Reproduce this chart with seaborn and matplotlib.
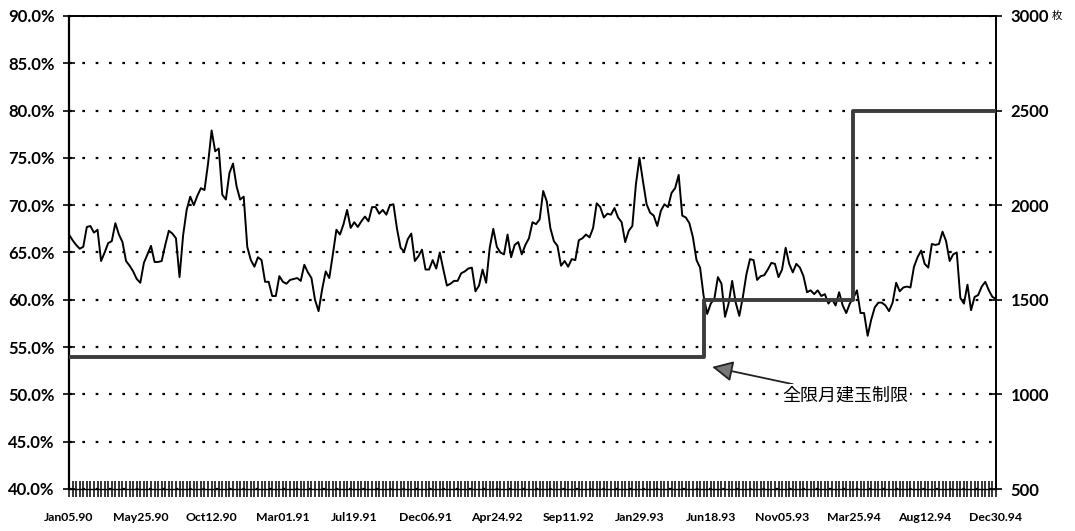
import numpy as np
import pandas as pd
import matplotlib
matplotlib.use("Agg")
import matplotlib.pyplot as plt
import seaborn as sns

# Weekly ratio (%) Jan05.90 .. Dec30.94 (261 weeks)
ratio = [
    66.9, 66.3, 65.8, 65.4, 65.6, 67.7, 67.8, 67.1, 67.4, 64.1,
    65.0, 66.0, 66.2, 68.1, 66.9, 66.1, 64.1, 63.6, 63.0, 62.2,
    61.8, 63.9, 64.8, 65.7, 64.0, 64.0, 64.1, 65.8, 67.3, 67.0,
    66.5, 62.4, 66.8, 69.5, 70.9, 70.0, 71.0, 71.8, 71.6, 74.4,
    77.9, 75.7, 76.0, 71.1, 70.6, 73.4, 74.4, 72.0, 70.6, 70.9,
    65.6, 64.2, 63.5, 64.5, 64.2, 61.9, 61.9, 60.4, 60.4, 62.5,
    61.9, 61.7, 62.1, 62.2, 62.3, 62.0, 63.7, 62.9, 62.3, 60.0,
    58.8, 61.1, 63.0, 62.3, 64.8, 67.4, 66.9, 68.0, 69.5, 67.6,
    68.2, 67.7, 68.3, 68.8, 68.3, 69.8, 69.8, 69.1, 69.5, 69.0,
    70.0, 70.1, 67.5, 65.5, 65.1, 66.4, 67.0, 64.1, 64.6, 65.3,
    63.2, 63.2, 64.2, 63.3, 65.0, 63.2, 61.5, 61.7, 62.0, 62.0,
    62.8, 63.0, 63.3, 63.4, 60.9, 61.5, 63.2, 61.8, 65.5, 67.5,
    65.6, 65.0, 64.8, 66.9, 64.5, 65.8, 66.1, 64.8, 65.8, 66.5,
    68.2, 68.0, 68.5, 71.5, 70.4, 67.6, 66.2, 65.7, 63.6, 64.1,
    63.5, 64.3, 64.2, 66.3, 66.5, 66.9, 66.6, 67.6, 70.2, 69.8,
    68.7, 69.1, 69.0, 69.7, 68.7, 68.2, 66.1, 67.3, 67.8, 72.2,
    75.0, 72.5, 70.1, 69.2, 68.9, 67.8, 69.4, 70.1, 69.8, 71.3,
    71.8, 73.2, 68.9, 68.7, 68.1, 66.6, 64.2, 63.4, 60.4, 58.5,
    59.6, 60.1, 62.4, 61.7, 58.2, 59.6, 62.0, 59.7, 58.3, 60.3,
    62.7, 64.3, 64.2, 62.1, 62.5, 62.6, 63.2, 63.9, 63.8, 62.4,
    63.2, 65.5, 63.8, 62.9, 63.8, 63.4, 62.5, 60.8, 61.0, 60.6,
    61.0, 60.4, 60.6, 59.6, 60.1, 59.4, 60.8, 59.4, 58.6, 59.6,
    60.2, 61.0, 58.6, 58.6, 56.2, 57.9, 59.2, 59.7, 59.7, 59.4,
    58.8, 59.7, 61.8, 60.9, 61.3, 61.4, 61.3, 63.5, 64.5, 65.2,
    63.8, 63.4, 65.9, 65.8, 65.9, 67.2, 66.2, 64.1, 64.8, 65.0,
    60.2, 59.6, 61.6, 58.9, 60.3, 60.5, 61.4, 61.9, 61.0, 60.3, 60.1,
]

tick_labels = ["Jan05.90", "May25.90", "Oct12.90", "Mar01.91", "Jul19.91",
               "Dec06.91", "Apr24.92", "Sep11.92", "Jan29.93", "Jun18.93",
               "Nov05.93", "Mar25.94", "Aug12.94", "Dec30.94"]

# Position limit for all contract months (枚), step changes by week index
limit_week = [0, 178, 220, 260]
limit_contracts = [1200, 1500, 2500, 2500]

left_ticks = [40, 45, 50, 55, 60, 65, 70, 75, 80, 85, 90]
right_ticks = [500, 1000, 1500, 2000, 2500, 3000]

sns.set_theme(style="white")
plt.rcParams["font.family"] = ["Lato", "DejaVu Sans"]

W, H = 1075, 531
fig = plt.figure(figsize=(W / 100, H / 100), dpi=100)
ax = fig.add_axes([69 / W, 1 - 489 / H, (996 - 69) / W, (489 - 16) / H])

df = pd.DataFrame({"week": np.arange(len(ratio)), "ratio": ratio})
sns.lineplot(data=df, x="week", y="ratio", ax=ax, color="black", lw=1.4, zorder=3)

ax.set_xlim(0, len(ratio) - 1)
ax.set_ylim(40, 90)
ax.set_xlabel("")
ax.set_ylabel("")

ax.set_yticks(left_ticks)
ax.set_yticklabels([f"{v:.1f}%" for v in left_ticks])
ax.yaxis.grid(True, linestyle=(0, (1.2, 4.8)), lw=1.6, color="black")
ax.xaxis.grid(False)

ax.set_xticks(np.arange(0, len(ratio), 20))
ax.set_xticklabels(tick_labels)
ax.set_xticks(np.arange(len(ratio)), minor=True)
ax.tick_params(axis="x", which="both", direction="inout", length=11, width=1.1,
               color="black", bottom=True)
ax.tick_params(axis="x", which="major", labelsize=8.8, pad=11, labelcolor="black")
ax.tick_params(axis="y", direction="inout", length=9, width=1.2, color="black",
               left=True, labelsize=12, pad=6, labelcolor="black")
for lab in ax.get_xticklabels():
    lab.set_fontweight("bold")
for lab in ax.get_yticklabels():
    lab.set_fontweight("bold")

for side, lw in [("left", 1.6), ("top", 1.4), ("right", 1.4), ("bottom", 1.0)]:
    ax.spines[side].set_color("black")
    ax.spines[side].set_linewidth(lw)

ax2 = ax.twinx()
sns.lineplot(x=limit_week, y=limit_contracts, ax=ax2, drawstyle="steps-post",
             color="#3c3c3c", lw=2.8)
ax2.set_ylim(500, 3000)
ax2.set_yticks(right_ticks)
ax2.set_yticklabels([str(v) for v in right_ticks])
ax2.set_ylabel("")
ax2.tick_params(axis="y", direction="inout", length=9, width=1.2, color="black",
                right=True, labelsize=12, pad=6, labelcolor="black")
for lab in ax2.get_yticklabels():
    lab.set_fontweight("bold")
for side in ["left", "top", "right", "bottom"]:
    ax2.spines[side].set_visible(False)
ax2.grid(False)

ax2.text(1.0605, 3000, "枚", transform=ax2.get_yaxis_transform(),
         fontfamily=["Noto Sans CJK JP", "DejaVu Sans"], fontsize=7.5,
         va="center", ha="left", color="black")

ax.annotate("全限月建玉制限", xy=(180.4, 52.9), xytext=(200.0, 49.9),
            fontfamily=["Noto Sans CJK JP", "DejaVu Sans"], fontsize=13,
            va="center", ha="left", color="black", zorder=5,
            bbox=dict(fc="white", ec="none", pad=1.5),
            arrowprops=dict(arrowstyle="-|>,head_length=0.9,head_width=0.45",
                            mutation_scale=14, color="#222222", fc="#777777",
                            lw=1.3, shrinkA=0, shrinkB=0))

fig.savefig("out.png", dpi=100, facecolor="white")
